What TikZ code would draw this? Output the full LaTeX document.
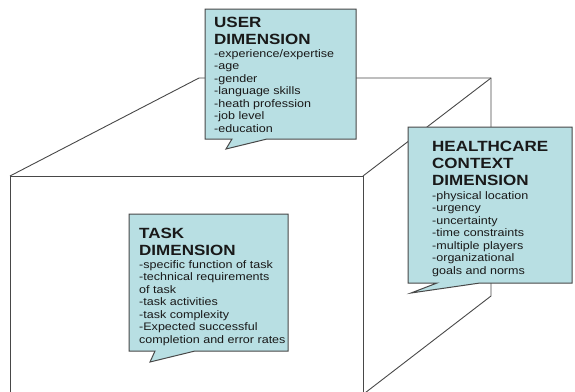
\documentclass[tikz,border=0pt]{standalone}
\usepackage{fontspec}
\newfontfamily\cfont[FakeStretch=1.15]{Liberation Sans}
\definecolor{callfill}{RGB}{184,223,227}
\definecolor{edgegray}{RGB}{72,72,72}
\definecolor{txt}{RGB}{25,25,25}
\begin{document}
\begin{tikzpicture}[x=1pt,y=-1pt,
  cube/.style={draw=edgegray, line width=0.9pt},
  callout/.style={draw=edgegray, fill=callfill, line width=1pt, line join=miter},
  head/.style={anchor=north west, inner sep=0pt, align=left, text=txt, font=\cfont\bfseries\fontsize{14.8}{17}\selectfont},
  items/.style={anchor=north west, inner sep=0pt, align=left, text=txt, font=\cfont\fontsize{10.9}{12.5}\selectfont}]
\useasboundingbox (0,0) rectangle (575,391);
\begin{scope}
\clip (0,0) rectangle (575,391);
% cube corners
\coordinate (fTL) at (10,176);
\coordinate (fTR) at (363,176);
\coordinate (fBL) at (10,400);
\coordinate (fBR) at (363,400);
\coordinate (bTL) at (199,78);
\coordinate (bTR) at (491,78);
\coordinate (bBR) at (491,296);
\coordinate (dEnd) at (361,396);
\draw[cube] (fBL) -- (fTL) -- (fTR) -- (fBR);
\draw[cube] (fTL) -- (bTL) -- (bTR) -- (bBR) -- (dEnd);
\draw[cube] (fTR) -- (bTR);
% callouts
\draw[callout] (205,9) -- (356,9) -- (356,139) -- (267,139) -- (226,149) -- (232,139) -- (205,139) -- cycle;
\draw[callout] (408,127) -- (572,127) -- (572,283) -- (480,283) -- (411,293) -- (437,283) -- (408,283) -- cycle;
\draw[callout] (129,214) -- (288,214) -- (288,351) -- (195,351) -- (150,362) -- (155,351) -- (129,351) -- cycle;
\end{scope}
% texts
\node[head] (userhead) at (214,15) {\rule{0pt}{12pt}USER\\DIMENSION};
\node[items] (useritems) at (214,47) {\rule{0pt}{10pt}-experience/expertise\\-age\\-gender\\-language skills\\-heath profession\\-job level\\-education};
\node[head] (healthhead) at (432,139) {\rule{0pt}{12pt}HEALTHCARE\\CONTEXT\\DIMENSION};
\node[items] (healthitems) at (432,189) {\rule{0pt}{10pt}-physical location\\-urgency\\-uncertainty\\-time constraints\\-multiple players\\-organizational\\goals and norms};
\node[head] (taskhead) at (139,226) {\rule{0pt}{12pt}TASK\\DIMENSION};
\node[items] (taskitems) at (139,258) {\rule{0pt}{10pt}-specific function of task\\-technical requirements\\of task\\-task activities\\-task complexity\\-Expected successful\\completion and error rates};
\end{tikzpicture}
\end{document}
